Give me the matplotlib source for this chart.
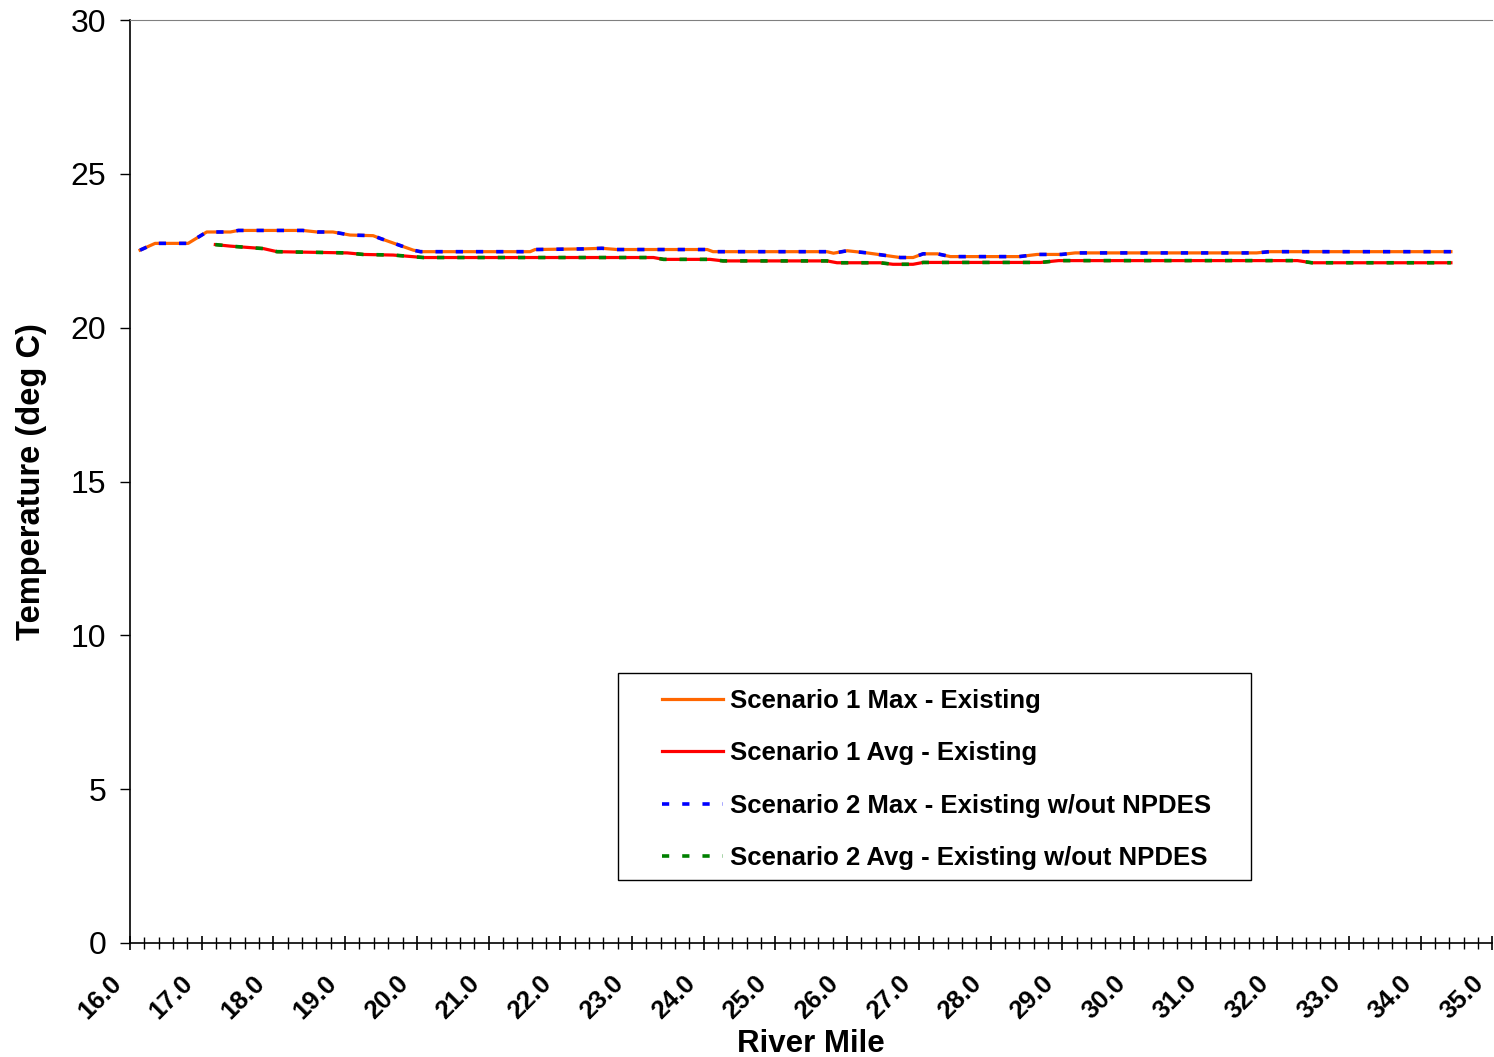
import matplotlib
matplotlib.use("Agg")
from matplotlib import pyplot as plt
from matplotlib import transforms
from matplotlib.patches import Rectangle
from matplotlib.ticker import MultipleLocator, FormatStrFormatter

plt.rcParams['font.family'] = ['Liberation Sans', 'DejaVu Sans']

# Scenario 1 max (river mile, deg C)
max_miles = [16.14, 16.35, 16.81, 17.07, 17.40, 17.51, 18.41, 18.61, 18.83, 19.07,
             19.39, 19.49, 19.95, 20.05, 21.58, 21.65, 22.32, 22.58, 22.79, 24.05,
             24.13, 25.72, 25.81, 26.00, 26.28, 26.74, 26.92, 27.06, 27.26, 27.44,
             28.40, 28.65, 28.99, 29.18, 31.71, 31.89, 34.42]
max_temps = [22.52, 22.74, 22.74, 23.11, 23.11, 23.16, 23.16, 23.11, 23.11, 23.01,
             22.99, 22.90, 22.52, 22.47, 22.47, 22.54, 22.56, 22.58, 22.54, 22.54,
             22.47, 22.47, 22.42, 22.50, 22.43, 22.28, 22.28, 22.40, 22.40, 22.31,
             22.31, 22.38, 22.38, 22.43, 22.43, 22.47, 22.47]

# Scenario 1 average
avg_miles = [17.19, 17.40, 17.86, 18.05, 19.03, 19.25, 19.67, 20.09, 23.30, 23.44,
             24.09, 24.27, 25.72, 25.86, 26.46, 26.64, 26.92, 27.06, 28.70, 28.95,
             32.28, 32.48, 34.42]
avg_temps = [22.70, 22.65, 22.57, 22.47, 22.43, 22.38, 22.36, 22.28, 22.28, 22.22,
             22.22, 22.17, 22.17, 22.11, 22.11, 22.06, 22.06, 22.12, 22.12, 22.18,
             22.18, 22.11, 22.11]

# Scenario 2 (w/out NPDES) overlays scenario 1 at this scale
s2_max_temps = list(max_temps)
s2_avg_temps = list(avg_temps)

fig = plt.figure(figsize=(14.94, 10.57), dpi=100)
ax = fig.add_axes([130 / 1494, 1 - 943 / 1057, 1362.5 / 1494, 923 / 1057])

ax.plot(max_miles, max_temps, color='#FF6600', lw=2.3, label='Scenario 1 Max - Existing')
ax.plot(avg_miles, avg_temps, color='#FF0000', lw=2.3, label='Scenario 1 Avg - Existing')
ax.plot(max_miles, s2_max_temps, color='#0000FF', lw=2.6, dashes=(2.0, 3.6),
        label='Scenario 2 Max - Existing w/out NPDES')
ax.plot(avg_miles, s2_avg_temps, color='#008000', lw=2.6, dashes=(2.0, 3.6),
        label='Scenario 2 Avg - Existing w/out NPDES')

ax.set_xlim(16, 35)
ax.set_ylim(0, 30)
ax.xaxis.set_major_locator(MultipleLocator(1))
ax.xaxis.set_minor_locator(MultipleLocator(0.2))
ax.xaxis.set_major_formatter(FormatStrFormatter('%.1f'))
ax.yaxis.set_major_locator(MultipleLocator(5))

ax.tick_params(axis='x', which='major', direction='inout', length=10, width=1.2, pad=4)
ax.tick_params(axis='x', which='minor', direction='inout', length=9, width=1.0)
ax.tick_params(axis='y', direction='out', length=7, width=1.0, labelsize=23, pad=10)

# push the rotated labels down/left like the original
shift = transforms.ScaledTranslation(-21 / 100, -16 / 100, fig.dpi_scale_trans)
for lbl in ax.get_xticklabels():
    lbl.set_rotation(45)
    lbl.set_ha('right')
    lbl.set_va('top')
    lbl.set_rotation_mode('anchor')
    lbl.set_fontsize(18.5)
    lbl.set_fontweight('bold')
    lbl.set_transform(lbl.get_transform() + shift)

ax.spines['right'].set_visible(False)
ax.spines['top'].set_color('#808080')
ax.spines['left'].set_linewidth(1.2)
ax.spines['bottom'].set_linewidth(1.2)

ax.set_xlabel('River Mile', fontsize=22.5, fontweight='bold')
ax.xaxis.set_label_coords(0.5, -0.093)
ax.set_ylabel('Temperature (deg C)', fontsize=23.5, fontweight='bold')
ax.yaxis.set_label_coords(-0.061, 0.5)

# legend box drawn separately (wider side padding than matplotlib gives)
box = Rectangle((618 / 1494, 1 - 880 / 1057), 633 / 1494, 207 / 1057,
                transform=fig.transFigure, facecolor='white', edgecolor='black',
                lw=1.0, zorder=4, clip_on=False)
ax.add_patch(box)

leg = ax.legend(loc='upper left', bbox_to_anchor=(662 / 1494, 1 - 689 / 1057),
                bbox_transform=fig.transFigure, prop={'weight': 'bold', 'size': 18.5},
                frameon=False, handlelength=2.37, handletextpad=0.27,
                labelspacing=1.1, borderpad=0, borderaxespad=0)
leg.set_zorder(5)

fig.savefig('out.png', dpi=100)
